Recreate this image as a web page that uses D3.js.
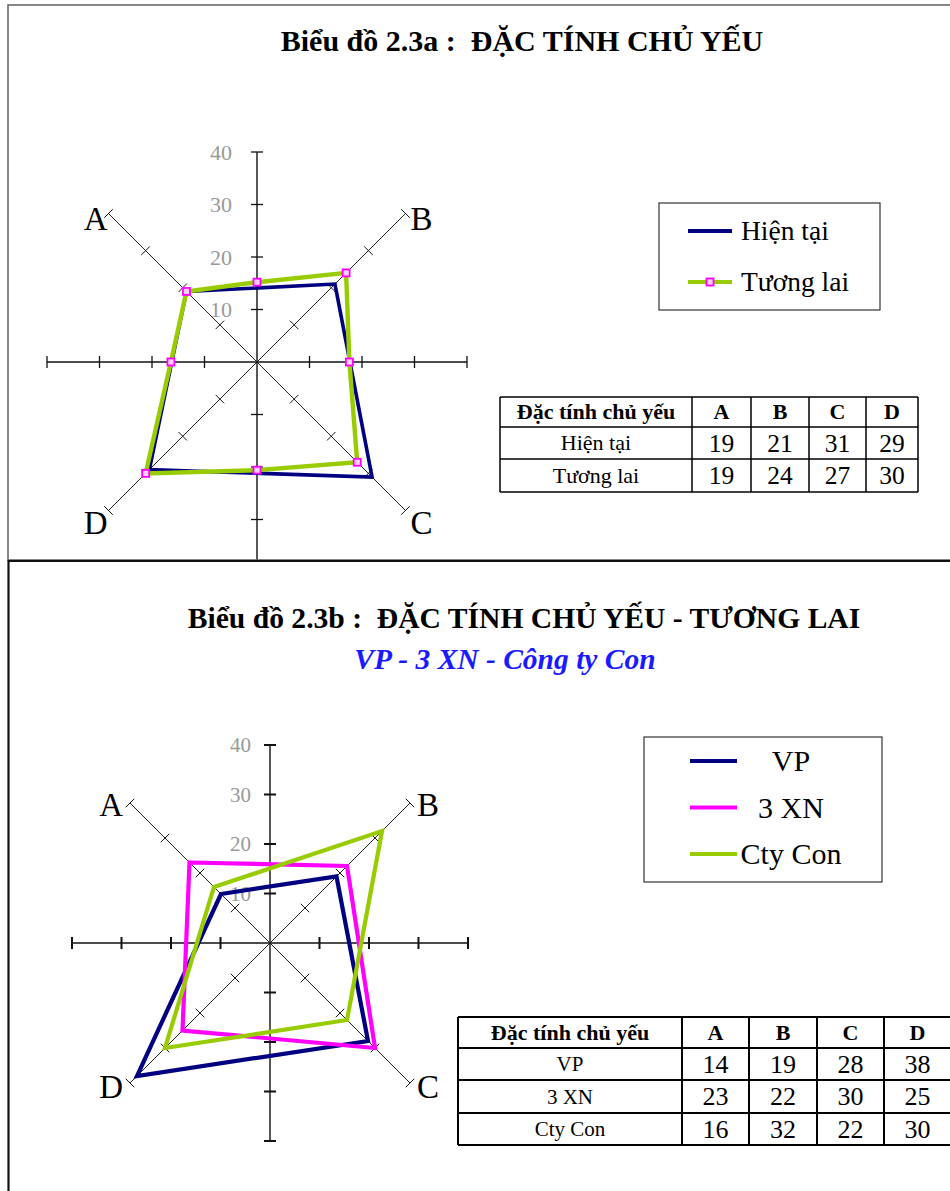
<!DOCTYPE html>
<html>
<head>
<meta charset="utf-8">
<script src="https://cdn.jsdelivr.net/npm/d3@7"></script>
<style>
    body { margin: 0; background: #fff; }
    svg text { font-family: "Liberation Serif", "Times New Roman", serif; white-space: pre; }
</style>
</head>
<body>
<div id="page"></div>
<script>
// Chart 2.3a
const categories = ["A", "B", "C", "D"];
const series1Names = ["Hiện tại", "Tương lai"];
const hienTai = [19, 21, 31, 29];
const tuongLai = [19, 24, 27, 30];
// Tương lai also has points on the unlabeled spokes (top, right, bottom, left)
const tuongLaiSpokes = [15.2, 17.6, 20.6, 16.4];

// Chart 2.3b
const series2Names = ["VP", "3 XN", "Cty Con"];
const vp = [14, 19, 28, 38];
const xn3 = [23, 22, 30, 25];
const ctyCon = [16, 32, 22, 30];

const tickValues = [10, 20, 30, 40];
const tickLabels = ["10", "20", "30", "40"];
const tableHeader = ["Đặc tính chủ yếu", "A", "B", "C", "D"];

const NAVY = "#000080", GREEN = "#99cc00", MAGENTA = "#ff00ff";

const svg = d3.select("#page").append("svg")
    .attr("width", 950)
    .attr("height", 1191);

svg.append("rect").attr("width", 950).attr("height", 1191).attr("fill", "#fff");

// angle of category i (A top-left, B top-right, C bottom-right, D bottom-left)
const catAngle = i => (2 * i - 1) * Math.PI / 4;
const spokeAngle = j => j * Math.PI / 2;

function drawRadar(g, cx, cy, R, cfg) {
    const r = d3.scaleLinear().domain([0, 40]).range([0, R]);
    const root = g.append("g").attr("transform", `translate(${cx},${cy})`);

    // 8 spokes
    for (let k = 0; k < 8; k++) {
        const a = k * Math.PI / 4;
        const main = k % 2 === 0;
        const end = d3.pointRadial(a, r(40));
        root.append("line")
            .attr("x1", 0).attr("y1", 0)
            .attr("x2", end[0]).attr("y2", end[1])
            .attr("stroke", main ? "#111" : "#222")
            .attr("stroke-width", main ? 1.4 : 1);
        const off = d3.pointRadial(a + Math.PI / 2, 6);
        root.selectAll(null)
            .data(tickValues)
            .join("line")
            .each(function (t) {
                const p = d3.pointRadial(a, r(t));
                d3.select(this)
                    .attr("x1", p[0] - off[0]).attr("y1", p[1] - off[1])
                    .attr("x2", p[0] + off[0]).attr("y2", p[1] + off[1]);
            })
            .attr("stroke", "#111")
            .attr("stroke-width", main ? cfg.mainTick : 1);
    }

    // value labels on the upward spoke
    root.selectAll(null)
        .data(tickValues)
        .join("text")
        .attr("x", cfg.tickLabelX)
        .attr("y", d => -r(d) + cfg.tickFont * 0.35)
        .attr("text-anchor", "end")
        .attr("font-size", cfg.tickFont)
        .attr("fill", "#999")
        .text((d, i) => tickLabels[i]);

    // category labels
    const d = R / Math.SQRT2;
    categories.forEach((c, i) => {
        const left = i === 0 || i === 3;
        const top = i < 2;
        root.append("text")
            .attr("x", left ? -d - cfg.labelDx[0] : d + cfg.labelDx[1])
            .attr("y", top ? -d + cfg.labelDy[0] : d + cfg.labelDy[1])
            .attr("text-anchor", left ? "end" : "start")
            .attr("font-size", cfg.labelFont)
            .attr("fill", "#000")
            .text(c);
    });

    return { root, r };
}

const radial = r => d3.lineRadial()
    .angle(d => d.a)
    .radius(d => r(d.v))
    .curve(d3.curveLinearClosed);

function marker(g, x, y) {
    g.append("rect")
        .attr("x", x - 3.5).attr("y", y - 3.5)
        .attr("width", 7).attr("height", 7)
        .attr("fill", "#ffd0ff")
        .attr("stroke", MAGENTA)
        .attr("stroke-width", 1.8);
}

function drawTable(g, xs, ys, rows, fonts) {
    const all = [tableHeader, ...rows];
    all.forEach((row, ri) => {
        row.forEach((cell, ci) => {
            const cxm = (xs[ci] + xs[ci + 1]) / 2;
            const cym = (ys[ri] + ys[ri + 1]) / 2;
            const fs = ri === 0 ? fonts.header : (ci === 0 ? fonts.label : fonts.num);
            g.append("text")
                .attr("x", cxm)
                .attr("y", cym + fs * 0.34)
                .attr("text-anchor", "middle")
                .attr("font-size", fs)
                .attr("font-weight", ri === 0 ? "bold" : "normal")
                .text(cell);
        });
    });
    xs.forEach((x, i) => {
        g.append("line").attr("x1", x).attr("x2", x)
            .attr("y1", ys[0]).attr("y2", ys[ys.length - 1])
            .attr("stroke", "#000").attr("stroke-width", fonts.lw);
    });
    ys.forEach(y => {
        g.append("line").attr("x1", xs[0]).attr("x2", xs[xs.length - 1])
            .attr("y1", y).attr("y2", y)
            .attr("stroke", "#000").attr("stroke-width", fonts.lw);
    });
}

// ---------- Panel 1 ----------
svg.append("defs").append("clipPath").attr("id", "clip1")
    .append("rect").attr("x", 0).attr("y", 0).attr("width", 950).attr("height", 560);

const p1 = svg.append("g").attr("clip-path", "url(#clip1)");

p1.append("text")
    .attr("x", 522).attr("y", 51)
    .attr("text-anchor", "middle")
    .attr("font-size", 30).attr("font-weight", "bold")
    .text("Biểu đồ 2.3a :  ĐẶC TÍNH CHỦ YẾU");

const radar1 = drawRadar(p1, 257, 362, 210, {
    tickFont: 22, tickLabelX: -25, labelFont: 33, mainTick: 1.3,
    labelDx: [1, 5], labelDy: [16, 24]
});

const pts1a = hienTai.map((v, i) => ({ a: catAngle(i), v }));
const pts1b = [];
tuongLai.forEach((v, i) => {
    pts1b.push({ a: catAngle(i), v });
    pts1b.push({ a: spokeAngle(i), v: tuongLaiSpokes[i] });
});
pts1b.sort((p, q) => ((p.a + 2 * Math.PI) % (2 * Math.PI)) - ((q.a + 2 * Math.PI) % (2 * Math.PI)));

radar1.root.append("path")
    .attr("d", radial(radar1.r)(pts1a))
    .attr("fill", "none").attr("stroke", NAVY).attr("stroke-width", 3.6)
    .attr("stroke-linejoin", "miter");
radar1.root.append("path")
    .attr("d", radial(radar1.r)(pts1b))
    .attr("fill", "none").attr("stroke", GREEN).attr("stroke-width", 4.4)
    .attr("stroke-linejoin", "miter");
pts1b.forEach(p => {
    const [x, y] = d3.pointRadial(p.a, radar1.r(p.v));
    marker(radar1.root, x, y);
});

// legend 1
const lg1 = p1.append("g");
lg1.append("rect").attr("x", 659).attr("y", 203).attr("width", 221).attr("height", 107)
    .attr("fill", "#fff").attr("stroke", "#333").attr("stroke-width", 1.2);
[NAVY, GREEN].forEach((col, i) => {
    const y = 231 + i * 51;
    lg1.append("line").attr("x1", 688).attr("x2", 732).attr("y1", y).attr("y2", y)
        .attr("stroke", col).attr("stroke-width", 4);
    if (i === 1) marker(lg1, 710, y);
    lg1.append("text").attr("x", 741).attr("y", y + 9)
        .attr("font-size", 27.5).text(series1Names[i]);
});

drawTable(p1.append("g"), [500, 692, 751, 809, 866, 918], [397, 427, 459, 492], [
    [series1Names[0], ...hienTai],
    [series1Names[1], ...tuongLai]
], { header: 22, label: 22, num: 25.5, lw: 1.5 });

// frame of panel 1
svg.append("rect").attr("x", 8).attr("y", 5).attr("width", 960).attr("height", 555)
    .attr("fill", "none").attr("stroke", "#6a6a6a").attr("stroke-width", 1.6);

// ---------- Panel 2 ----------
const p2 = svg.append("g");
p2.append("line").attr("x1", 8).attr("x2", 950).attr("y1", 561).attr("y2", 561)
    .attr("stroke", "#111").attr("stroke-width", 2.2);
p2.append("line").attr("x1", 8.5).attr("x2", 8.5).attr("y1", 560).attr("y2", 1191)
    .attr("stroke", "#111").attr("stroke-width", 2.2);

p2.append("text")
    .attr("x", 524).attr("y", 628)
    .attr("text-anchor", "middle")
    .attr("font-size", 29.6).attr("font-weight", "bold")
    .text("Biểu đồ 2.3b :  ĐẶC TÍNH CHỦ YẾU - TƯƠNG LAI");
p2.append("text")
    .attr("x", 505).attr("y", 669)
    .attr("text-anchor", "middle")
    .attr("font-size", 29.5).attr("font-weight", "bold").attr("font-style", "italic")
    .attr("fill", "#1a1aff")
    .text("VP - 3 XN - Công ty Con");

const radar2 = drawRadar(p2, 270, 943, 198, {
    tickFont: 21, tickLabelX: -19, labelFont: 33, mainTick: 2,
    labelDx: [7, 7], labelDy: [13, 15]
});

[vp, xn3, ctyCon].forEach((vals, si) => {
    const pts = vals.map((v, i) => ({ a: catAngle(i), v }));
    radar2.root.append("path")
        .attr("d", radial(radar2.r)(pts))
        .attr("fill", "none")
        .attr("stroke", [NAVY, MAGENTA, GREEN][si])
        .attr("stroke-width", 4.2)
        .attr("stroke-linejoin", "miter");
});

// legend 2
const lg2 = p2.append("g");
lg2.append("rect").attr("x", 644).attr("y", 737).attr("width", 238).attr("height", 145)
    .attr("fill", "#fff").attr("stroke", "#333").attr("stroke-width", 1.2);
[NAVY, MAGENTA, GREEN].forEach((col, i) => {
    const y = 761 + i * 46.5;
    lg2.append("line").attr("x1", 690).attr("x2", 737).attr("y1", y).attr("y2", y)
        .attr("stroke", col).attr("stroke-width", 4);
    lg2.append("text").attr("x", 791).attr("y", y + 10)
        .attr("text-anchor", "middle")
        .attr("font-size", 30).text(series2Names[i]);
});

drawTable(p2.append("g"), [458, 682, 749, 817, 884, 951], [1017, 1048, 1080, 1113, 1145], [
    [series2Names[0], ...vp],
    [series2Names[1], ...xn3],
    [series2Names[2], ...ctyCon]
], { header: 22, label: 21, num: 26, lw: 2 });
</script>
</body>
</html>
